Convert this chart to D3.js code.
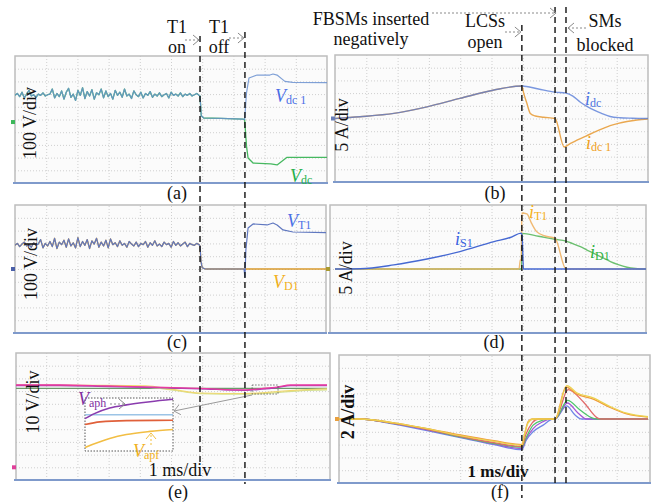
<!DOCTYPE html>
<html>
<head>
<meta charset="utf-8">
<script src="https://cdn.jsdelivr.net/npm/d3@7"></script>
<style>
body { margin: 0; background: #fff; }
</style>
</head>
<body>
<script>
// time in ms (1 ms/div), values in physical units of each panel

// event instants (dashed lines)
var leftEvents = [5.93, 7.37];          // T1 on, T1 off
var rightEvents = [5.97, 7.03, 7.38];   // LCSs open, FBSMs end, SMs blocked

// (a) / (c) ripple before T1 turns on, V
var noiseA = [190,205,180,215,170,200,230,185,195,175,200,190,210,185,195,200,240,170,205,180,225,160,215,245,175,200,150,230,190,250,165,220,185,235,160,210,195,240,170,225,180,205,160,230,190,215,175,240,185,200,165,225,195,180,215,170,205,190,220,175,200,185,210,180,195,205,170,215,190,200,185,210,180,200,190,205,185,195,205,190];
var noiseC = [185,200,175,195,210,180,190,170,205,185,195,230,165,200,180,215,175,240,160,210,190,225,170,235,180,205,165,245,175,215,185,230,160,220,195,240,170,210,180,225,165,235,190,205,175,220,185,200,170,215,195,180,210,175,200,190,215,170,205,185,220,180,195,175,210,190,200,170,215,185,205,180,195,210,175,200,190,185,200,190];

// (a) 100 V/div
var vdc1Tail = [[5.93,185],[5.97,30],[6.05,12],[6.6,9],[7.3,3],[7.36,0],[7.42,210],[7.5,327],[7.76,350],[8.17,350],[8.27,358],[8.4,350],[8.65,300],[8.9,292],[10,290]];
var vdcTail  = [[5.93,185],[5.97,30],[6.05,12],[6.6,9],[7.3,3],[7.36,0],[7.42,-210],[7.47,-303],[7.63,-343],[8.2,-350],[8.4,-358],[8.72,-298],[10,-298]];

// (b) 5 A/div
var idcRise = [[0,0],[0.8,0.7],[1.88,2.0],[2.94,4.6],[3.99,7.9],[5.08,11.2],[5.97,12.8]];
var idcFall = [[6.5,11.6],[7.03,10.4],[7.38,10.0],[7.6,8.8],[7.83,6.5],[8.05,4.8],[8.28,3.3],[8.5,2.1],[8.79,0.8],[9.1,0.3],[9.5,0.1],[10,0]];
var idc1Fall = [[6.03,9.9],[6.13,6.0],[6.24,2.0],[6.4,1.0],[6.67,0.5],[7.03,0],[7.32,-11.2],[7.5,-10.0],[7.73,-8.5],[8.0,-7.0],[8.27,-5.5],[8.55,-4.0],[8.79,-2.8],[9.05,-1.9],[9.33,-1.2],[9.65,-0.6],[10,-0.2]];

// (c) 100 V/div
var vT1Tail = [[5.93,180],[5.96,60],[6.0,10],[6.1,0],[7.34,0],[7.37,-62],[7.4,150],[7.47,320],[7.63,352],[8.08,344],[8.27,359],[8.4,344],[8.59,305],[8.91,289],[10,284]];
var vD1Tail = [[5.93,180],[5.96,60],[6.0,10],[6.1,0],[10,0]];

// (d) 5 A/div
var iS1 = [[0,0],[0.8,0.1],[1.88,1.6],[2.94,3.9],[3.99,6.8],[5.08,10.7],[5.6,12.3],[5.95,14.0],[5.98,12.5],[6.02,0],[10,0]];
var iT1 = [[0,0],[5.88,0],[5.92,3.5],[5.95,3.5],[5.97,21.9],[6.13,21.5],[6.29,17.6],[6.45,14.5],[6.71,12.9],[7.03,12.0],[7.38,0],[10,0]];
var iD1 = [[0,0],[5.96,0],[5.98,13.9],[6.5,12.8],[7.03,11.6],[7.38,10.9],[7.6,9.9],[7.84,8.7],[8.05,7.4],[8.27,6.1],[8.55,4.4],[8.8,2.9],[9.05,1.7],[9.33,0.7],[9.6,0.2],[9.86,0],[10,0]];

// (e) 10 V/div
var vGreenE  = [[0,22.2],[10,22.2]];
var vOliveE  = [[0,24.4],[3.5,24.0],[5.0,21.0],[5.93,18.0],[7.37,17.6],[8.4,18.8],[9.2,20.4],[10,21.0]];
var vYellowE = [[0,24.8],[2.5,24.6],[4.2,24.2],[5.0,21.5],[5.93,18.5],[7.37,18.1],[7.9,18.6],[8.4,19.7],[9.2,21.0],[10,21.7]];
var vPurpleE = [[0,24.4],[1.44,24.4],[3,23.6],[4.5,22.8],[5.93,21.8],[7.37,20.6],[7.9,21.5],[8.4,22.8],[8.83,24.3],[10,24.4]];
var vPinkE   = [[0,24.8],[1.44,24.8],[3.0,24.0],[4.5,23.2],[5.93,22.2],[7.37,20.9],[7.9,22.0],[8.4,23.2],[8.83,24.8],[10,24.8]];
var zoomWin  = [7.6, 8.43, 17.7, 24.8];   // t0, t1, v0, v1 of the zoomed box
// zoomed inset, relative units (x 0..1, y 0..10)
var inPurple = [[0,6.1],[0.1,7.0],[0.28,8.1],[0.47,8.7],[0.74,9.3],[1,9.76]];
var inBlue   = [[0,6.85],[1,6.85]];
var inRed    = [[0,5.0],[0.17,5.5],[0.47,5.74],[1,5.8]];
var inYellow = [[0,0.68],[0.28,2.35],[0.47,3.1],[0.74,3.7],[1,4.07]];

// (f) 2 A/div, arm currents
var fYellow = [[0,0],[0.8,0],[1.88,-0.6],[2.94,-1.5],[4.0,-2.6],[5.08,-3.5],[5.97,-4.1],[6.05,-2.5],[6.17,-0.6],[6.33,0],[7.03,0],[7.41,5.2],[7.72,4.1],[8.25,3.3],[8.79,1.95],[9.32,0.9],[10,0.35]];
var fOrange = [[0,0],[0.8,0],[1.88,-0.6],[2.94,-1.5],[4.0,-2.5],[5.08,-3.4],[5.97,-4.0],[6.0,-3.6],[6.17,-0.4],[6.3,0],[7.03,0],[7.38,5.0],[7.72,3.9],[8.25,3.1],[8.79,1.8],[9.32,0.8],[10,0.3]];
var fRed    = [[0,0],[0.8,0],[1.88,-0.7],[2.94,-1.6],[4.0,-2.7],[5.08,-3.7],[5.97,-4.3],[6.1,-2.4],[6.3,-0.6],[6.5,0],[7.03,0],[7.45,4.6],[7.93,2.7],[8.41,0.1],[8.5,0],[10,0]];
var fGreen  = [[0,0],[0.8,0],[1.88,-0.7],[2.94,-1.6],[4.0,-2.8],[5.08,-3.8],[5.97,-4.4],[6.1,-3.0],[6.33,-0.95],[6.65,-0.15],[6.8,0],[7.03,0],[7.43,2.9],[7.83,1.4],[8.25,0.1],[8.35,0],[10,0]];
var fPurple = [[0,0],[0.8,0],[1.88,-0.7],[2.94,-1.7],[4.0,-2.8],[5.08,-3.9],[5.97,-4.6],[6.1,-3.2],[6.33,-1.5],[6.65,-0.4],[6.87,0],[7.03,0],[7.42,2.5],[7.77,0.9],[8.04,0],[10,0]];
var fBlue   = [[0,0],[0.8,0],[1.88,-0.8],[2.94,-1.8],[4.0,-2.9],[5.08,-4.0],[5.97,-4.8],[6.1,-3.4],[6.33,-2.0],[6.65,-0.95],[6.96,0],[7.03,0],[7.4,2.05],[7.67,0.63],[7.88,0],[10,0]];

var W = 657, H = 504;
var FONT = "'Liberation Serif', 'Times New Roman', 'DejaVu Serif', serif";
var svg = d3.select("body").append("svg").attr("width", W).attr("height", H)
  .attr("font-family", FONT);
var defs = svg.append("defs");

var xL = d3.scaleLinear().domain([0, 10]).range([15, 327]);
var xR = d3.scaleLinear().domain([0, 10]).range([335, 648]);

function withNoise(noise, tail) {
  var step = 5.9 / (noise.length - 1);
  return noise.map(function(v, i) { return [i * step, v]; }).concat(tail);
}

// one oscilloscope panel
function panel(id, box, xs, unit, ground, markColor) {
  var y = d3.scaleLinear().domain([-5 * unit, 5 * unit]).range([box.y1, box.y0]);
  var w = box.x1 - box.x0, h = box.y1 - box.y0;
  var g = svg.append("g");
  defs.append("clipPath").attr("id", "clip-" + id)
    .append("rect").attr("x", box.x0).attr("y", box.y0).attr("width", w).attr("height", h);
  g.append("rect").attr("x", box.x0).attr("y", box.y0).attr("width", w).attr("height", h)
    .attr("fill", "#fbfbfb");

  var gx = g.append("g").attr("transform", "translate(0," + box.y1 + ")")
    .call(d3.axisBottom(xs).tickValues(d3.range(1, 10)).tickSize(-h).tickFormat(""));
  var gy = g.append("g").attr("transform", "translate(" + box.x0 + ",0)")
    .call(d3.axisLeft(y).tickValues(d3.range(-4, 5).map(function(v) { return v * unit; }))
      .tickSize(-w).tickFormat(""));
  [gx, gy].forEach(function(a) {
    a.select(".domain").remove();
    a.selectAll("line").attr("stroke", "#cfcfcf").attr("stroke-width", 1)
      .attr("stroke-dasharray", "1,2");
  });

  g.append("rect").attr("x", box.x0).attr("y", box.y0).attr("width", w).attr("height", h)
    .attr("fill", "none").attr("stroke", "#bdbdbd").attr("stroke-width", 1.5);
  g.append("line").attr("x1", box.x0 - 2).attr("x2", box.x1 + 1).attr("y1", box.y1).attr("y2", box.y1)
    .attr("stroke", "#7f9acb").attr("stroke-width", 2);
  // ground marker
  g.append("rect").attr("x", box.x0 - 4).attr("y", y(ground) - 2).attr("width", 4).attr("height", 4)
    .attr("fill", markColor);

  var plot = g.append("g").attr("clip-path", "url(#clip-" + id + ")");
  return { g: g, plot: plot, x: xs, y: y };
}

function trace(p, pts, color, width, smooth, opacity) {
  var line = d3.line()
    .x(function(d) { return p.x(d[0]); })
    .y(function(d) { return p.y(d[1]); })
    .curve(smooth ? d3.curveMonotoneX : d3.curveLinear);
  p.plot.append("path").datum(pts).attr("d", line)
    .attr("fill", "none").attr("stroke", color).attr("stroke-width", width || 1.3)
    .attr("stroke-linejoin", "round").attr("opacity", opacity == null ? 1 : opacity);
}

function txt(x, y, s, size, opts) {
  opts = opts || {};
  return svg.append("text").attr("x", x).attr("y", y).attr("text-anchor", opts.anchor || "middle")
    .attr("fill", opts.color || "#111").attr("font-family", FONT).style("font-size", size + "px")
    .style("font-weight", opts.bold ? "bold" : "normal").text(s);
}

function vtxt(cx, cy, s, size, bold) {
  svg.append("text").attr("transform", "translate(" + cx + "," + cy + ") rotate(-90)")
    .attr("text-anchor", "middle").attr("dominant-baseline", "central")
    .attr("fill", "#111").attr("font-family", FONT).style("font-size", size + "px")
    .style("font-weight", bold ? "bold" : "normal").text(s);
}

function sigLabel(x, y, main, sub, color) {
  var t = svg.append("text").attr("x", x).attr("y", y).attr("fill", color)
    .attr("font-family", FONT).style("font-size", "18px");
  t.append("tspan").style("font-style", "italic").text(main);
  t.append("tspan").attr("dy", 2).style("font-size", "12px").text(sub);
}

function arrow(x1, y1, x2, y2, dotted, color) {
  color = color || "#8a8a8a";
  svg.append("line").attr("x1", x1).attr("y1", y1).attr("x2", x2).attr("y2", y2)
    .attr("stroke", color).attr("stroke-width", 1)
    .attr("stroke-dasharray", dotted ? "2,2" : null);
  var dx = x2 - x1, dy = y2 - y1, len = Math.sqrt(dx * dx + dy * dy);
  var ux = dx / len, uy = dy / len, L = 6, hw = 5;
  var p1 = [x2 - ux * L - uy * hw, y2 - uy * L + ux * hw];
  var p2 = [x2 - ux * L + uy * hw, y2 - uy * L - ux * hw];
  svg.append("path").attr("d", "M" + p1 + "L" + x2 + "," + y2 + "L" + p2)
    .attr("fill", "none").attr("stroke", color).attr("stroke-width", 1);
}

// ---- panels
var pa = panel("a", {x0: 15, x1: 327, y0: 56, y1: 183}, xL, 100, -20, "#3cb85a");
var pb = panel("b", {x0: 335, x1: 648, y0: 55, y1: 182}, xR, 5, 0, "#6a7fb8");
var pc = panel("c", {x0: 15, x1: 326, y0: 205, y1: 333}, xL, 100, 0, "#4a5fa8");
var pd = panel("d", {x0: 330, x1: 646, y0: 205, y1: 333}, xR, 5, 0, "#a89a30");
var pe = panel("e", {x0: 16, x1: 330, y0: 353, y1: 480}, xL, 10, -40, "#e0409a");
var pf = panel("f", {x0: 339, x1: 650, y0: 355, y1: 483}, xR, 2, 0, "#e8a040");

// (a)
trace(pa, withNoise(noiseA, vdcTail), "#46b860", 1.3, false);
trace(pa, withNoise(noiseA, vdc1Tail), "#6a90d0", 1.2, false, 0.85);
// (b)
trace(pb, idcRise.concat(idc1Fall), "#eaa850", 1.4, true);
trace(pb, idcRise.concat(idcFall), "#4f76d6", 1.4, true, 0.75);
// (c)
trace(pc, withNoise(noiseC, vD1Tail), "#d99a2e", 1.3, false);
trace(pc, withNoise(noiseC, vT1Tail), "#6078c0", 1.2, false);
// (d)
trace(pd, iD1, "#6cc070", 1.4, true);
trace(pd, iT1, "#eeae5c", 1.4, true, 0.85);
trace(pd, iS1, "#4568d2", 1.4, true);
// (e)
trace(pe, vGreenE, "#6b9a6b", 1.2, true);
trace(pe, vOliveE, "#d4e090", 1.2, true);
trace(pe, vYellowE, "#efd870", 1.2, true);
trace(pe, vPurpleE, "#9a40b8", 1.3, true);
trace(pe, vPinkE, "#ea3aa0", 1.3, true);
// (f)
[[fBlue, "#6e86e6"], [fPurple, "#a455d6"], [fGreen, "#4cc46a"], [fRed, "#e06a6a"],
 [fOrange, "#f09a3a"], [fYellow, "#ecd250"]].forEach(function(s) {
  trace(pf, s[0], s[1], 1.3, true);
});

// zoom box on (e) and its inset
var zx0 = pe.x(zoomWin[0]), zx1 = pe.x(zoomWin[1]), zy0 = pe.y(zoomWin[3]), zy1 = pe.y(zoomWin[2]);
svg.append("rect").attr("x", zx0).attr("y", zy0).attr("width", zx1 - zx0).attr("height", zy1 - zy0)
  .attr("fill", "none").attr("stroke", "#555").attr("stroke-width", 0.8).attr("stroke-dasharray", "1.5,1.5");
var inBox = {x0: 85, x1: 173, y0: 398, y1: 451};
var ix = d3.scaleLinear().domain([0, 1]).range([inBox.x0, inBox.x1]);
var iy = d3.scaleLinear().domain([0, 10]).range([inBox.y1, inBox.y0]);
var inset = svg.append("g");
inset.append("rect").attr("x", inBox.x0).attr("y", inBox.y0)
  .attr("width", inBox.x1 - inBox.x0).attr("height", inBox.y1 - inBox.y0)
  .attr("fill", "#fff").attr("stroke", "#444").attr("stroke-width", 0.9).attr("stroke-dasharray", "1.5,1.5");
var inLine = d3.line().x(function(d) { return ix(d[0]); }).y(function(d) { return iy(d[1]); }).curve(d3.curveMonotoneX);
[[inBlue, "#9cc4e6"], [inRed, "#e0603a"], [inYellow, "#f2be44"], [inPurple, "#8a3cae"]].forEach(function(s) {
  inset.append("path").datum(s[0]).attr("d", inLine).attr("fill", "none")
    .attr("stroke", s[1]).attr("stroke-width", 1.6);
});
arrow(zx0, 395, inBox.x1 + 1, 411, false, "#9a9a9a");

// ---- dashed event lines
var dash = svg.append("g").attr("stroke", "#111").attr("stroke-width", 1.4).attr("stroke-dasharray", "6,4");
dash.append("line").attr("x1", xL(leftEvents[0])).attr("x2", xL(leftEvents[0])).attr("y1", 36).attr("y2", 466);
dash.append("line").attr("x1", xL(leftEvents[1])).attr("x2", xL(leftEvents[1])).attr("y1", 32).attr("y2", 484);
dash.append("line").attr("x1", xR(rightEvents[0])).attr("x2", xR(rightEvents[0])).attr("y1", 25).attr("y2", 498);
dash.append("line").attr("x1", xR(rightEvents[1])).attr("x2", xR(rightEvents[1])).attr("y1", 7).attr("y2", 484);
dash.append("line").attr("x1", xR(rightEvents[2])).attr("x2", xR(rightEvents[2])).attr("y1", 7).attr("y2", 484);

// ---- top annotations
txt(177, 33, "T1", 18); txt(177, 53, "on", 18);
txt(219, 33, "T1", 18); txt(219, 53, "off", 18);
arrow(185, 40, xL(leftEvents[0]) - 1, 40, true);
arrow(229, 38, xL(leftEvents[1]) - 1, 38, true);
txt(371, 25, "FBSMs inserted", 18); txt(371, 45, "negatively", 18);
arrow(432, 13, xR(rightEvents[1]) + 1, 13, true);
txt(485, 27, "LCSs", 18); txt(485, 48, "open", 18);
arrow(505, 32, xR(rightEvents[0]) - 1, 32, true);
txt(605, 27, "SMs", 18); txt(605, 51, "blocked", 18);
arrow(586, 28, xR(rightEvents[2]) + 2, 28, true);

// ---- signal labels
sigLabel(275, 102, "V", "dc 1", "#4a6ee6");
sigLabel(290, 182, "V", "dc", "#22b04a");
sigLabel(585, 105, "i", "dc", "#4a72e0");
sigLabel(586, 149, "i", "dc 1", "#f0a020");
sigLabel(287, 227, "V", "T1", "#4a70e6");
sigLabel(273, 288, "V", "D1", "#f2b020");
sigLabel(455, 245, "i", "S1", "#3a62e0");
sigLabel(529, 218, "i", "T1", "#f5b020");
sigLabel(590, 258, "i", "D1", "#30b040");
sigLabel(78, 405, "V", "aph", "#8030a0");
sigLabel(133, 457, "V", "apf", "#f0b020");
arrow(110, 404, 125, 404, true);
arrow(151, 445, 151, 433, true, "#f2c040");

// ---- axis captions
vtxt(30, 123, "100 V/div", 18);
vtxt(342, 125, "5 A/div", 18);
vtxt(31, 264, "100 V/div", 18);
vtxt(346, 268, "5 A/div", 18);
vtxt(33, 402, "10 V/div", 18);
vtxt(348, 412, "2 A/div", 18, true);
txt(180, 476, "1 ms/div", 18);
txt(498, 477, "1 ms/div", 17, {bold: true});

// ---- panel captions
txt(177, 199, "(a)", 18); txt(495, 199, "(b)", 18);
txt(177, 348, "(c)", 18); txt(494, 348, "(d)", 18);
txt(178, 498, "(e)", 18); txt(500, 498, "(f)", 18);
</script>
</body>
</html>
